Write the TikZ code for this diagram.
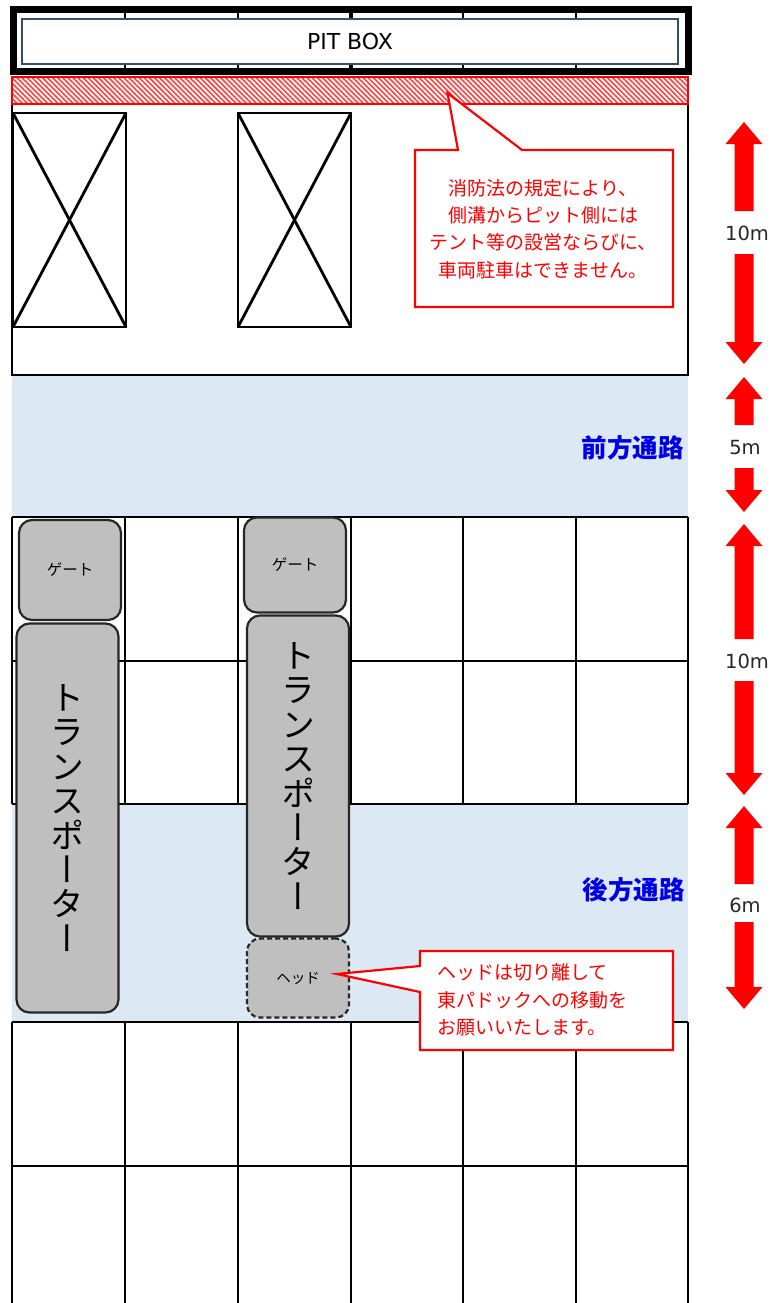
\documentclass[tikz,border=0pt]{standalone}
\usepackage{fontspec}
\setmainfont{Noto Sans CJK JP}
\newfontfamily\latinfont{DejaVu Sans}
\newfontfamily\vertfont[RawFeature={+vert}]{Noto Sans CJK JP}
\usetikzlibrary{patterns.meta}
\definecolor{laneblue}{RGB}{220,233,245}
\definecolor{boxedge}{RGB}{52,80,110}
\definecolor{truckgray}{RGB}{191,191,191}
\tikzset{
  vehicle/.style={draw=black!85,fill=truckgray,rounded corners=13pt,line width=2.2pt,minimum width=102pt,inner sep=0pt},
  smalltext/.style={font=\fontsize{15.5}{17}\selectfont},
  longtext/.style={font=\vertfont\fontsize{34}{34.4}\selectfont,align=center,inner sep=0pt},
  lot/.style={draw=black,line width=2.8pt},
  cross/.style={draw=black,line width=2.8pt},
  lanelabel/.style={text=blue!90!black,font=\bfseries\fontsize{25.5}{28}\selectfont,anchor=east,inner sep=0pt},
  redtext/.style={text=red,font=\fontsize{19}{27.4}\selectfont,inner sep=0pt},
  dimlabel/.style={font=\latinfont\fontsize{19.5}{22}\selectfont,text=black!85},
  dimarrow/.style={draw=none,fill=red},
  callout/.style={draw=red,fill=white,line width=2.2pt,line join=miter}
}
\newcommand{\uparr}[3]{\fill[dimarrow] (#1,#2) -- (#1+18.5,#2+22) -- (#1+9.5,#2+22) -- (#1+9.5,#3) -- (#1-9.5,#3) -- (#1-9.5,#2+22) -- (#1-18.5,#2+22) -- cycle;}
\newcommand{\downarr}[3]{\fill[dimarrow] (#1,#2) -- (#1+18.5,#2-22) -- (#1+9.5,#2-22) -- (#1+9.5,#3) -- (#1-9.5,#3) -- (#1-9.5,#2-22) -- (#1-18.5,#2-22) -- cycle;}
\begin{document}
\begin{tikzpicture}[x=1pt,y=-1pt]
  \useasboundingbox (0,0) rectangle (772,1303);
  % lanes
  \fill[laneblue] (12,375) rectangle (688,517);
  \fill[laneblue] (12,804) rectangle (688,1022);
  % parking grid
  \foreach \gx in {12,125,238,351,463,576,688} {
    \draw[lot] (\gx,517) -- (\gx,804);
    \draw[lot] (\gx,1022) -- (\gx,1303);
    \draw[lot] (\gx,12) -- (\gx,72);
  }
  \foreach \gy in {517,661,804,1022,1166}
    \draw[lot] (12,\gy) -- (688,\gy);
  \draw[lot] (12,76) -- (12,375) -- (688,375) -- (688,76);
  % pit box
  \draw[line width=4.5pt] (351,12) -- (351,72);
  \fill[white] (682,12) rectangle (690,72);
  \draw[line width=7pt] (13.5,9.5) rectangle (688.5,71.5);
  \node[draw=boxedge,fill=white,line width=2.2pt,minimum width=656pt,minimum height=45pt,inner sep=0pt,font=\latinfont\fontsize{22}{24}\selectfont] (pitbox) at (350,41.5) {\raisebox{-1.5pt}{PIT BOX}};
  % no parking strip
  \fill[white] (12,77) rectangle (688,104);
  \draw[draw=red,line width=2pt,pattern={Lines[angle=-45,distance=3.6pt,line width=1.6pt]},pattern color=red!75] (12,77) rectangle (688,104);
  % tents
  \foreach \tx in {13,238} {
    \draw[cross] (\tx,113) rectangle (\tx+113,327);
    \draw[cross] (\tx,113) -- (\tx+113,327);
    \draw[cross] (\tx+113,113) -- (\tx,327);
  }
  % lane labels
  \node[lanelabel] (frontlane) at (684,448) {前方通路};
  \node[lanelabel] (rearlane) at (685,890) {後方通路};
  % vehicles
  \node[vehicle,dash pattern=on 5pt off 3pt,minimum height=79pt,smalltext] (head) at (298,978) {\fontsize{14.5}{16}\selectfont ヘッド};
  \node[vehicle,minimum height=100pt,smalltext] (gateL) at (70,570) {\raisebox{-1pt}{ゲート}};
  \node[vehicle,minimum height=95pt,smalltext] (gateR) at (295,565) {ゲート};
  \node[vehicle,minimum height=389pt] (truckL) at (67.5,818) {};
  \node[vehicle,minimum height=321pt] (truckR) at (298,776) {};
  \node[longtext] (nameL) at (67.5,818) {ト\\ラ\\ン\\ス\\ポ\\ー\\タ\\ー};
  \node[longtext] (nameR) at (298,776) {ト\\ラ\\ン\\ス\\ポ\\ー\\タ\\ー};
  % notes
  \draw[callout] (415,150) -- (458,150) -- (447.5,93) -- (522,150) -- (673,150) -- (673,307) -- (415,307) -- cycle;
  \node[redtext,align=center] (firenote) at (543,229) {消防法の規定により、\\側溝からピット側には\\テント等の設営ならびに、\\車両駐車はできません。};
  \draw[callout] (420,951) -- (673,951) -- (673,1050) -- (420,1050) -- (420,992) -- (337,974) -- (420,966) -- cycle;
  \node[redtext,align=left,anchor=west] (headnote) at (437,1000) {ヘッドは切り離して\\東パドックへの移動を\\お願いいたします。};
  % dimensions
  \uparr{744}{122}{211}
  \node[dimlabel] (dimA) at (747,233) {10m};
  \downarr{744}{364}{254}
  \uparr{744}{377}{425}
  \node[dimlabel] (dimB) at (745,448) {5m};
  \downarr{744}{512}{468}
  \uparr{744}{524}{639}
  \node[dimlabel] (dimC) at (747,661) {10m};
  \downarr{744}{795}{681}
  \uparr{744}{806}{884}
  \node[dimlabel] (dimD) at (745,905) {6m};
  \downarr{744}{1009}{922}
\end{tikzpicture}
\end{document}
